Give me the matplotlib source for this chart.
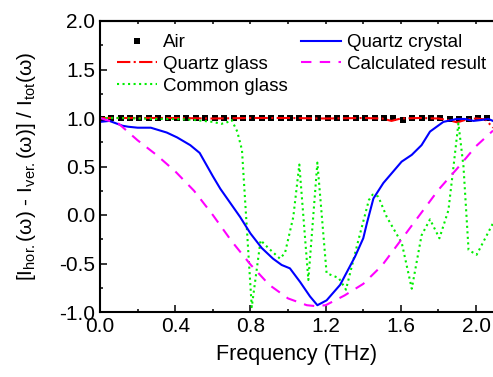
import matplotlib
matplotlib.use("Agg")
import matplotlib.pyplot as plt
from matplotlib.ticker import MultipleLocator

plt.rcParams.update({
    "font.family": ["Liberation Sans", "DejaVu Sans"],
    "mathtext.fontset": "custom",
    "mathtext.rm": "Liberation Sans",
    "mathtext.it": "Liberation Sans:italic",
    "axes.linewidth": 1.5,
})

# ── data ─────────────────────────────────────────────────────────────────────
air_f = [0.01, 0.06, 0.11, 0.16, 0.21, 0.26, 0.31, 0.36, 0.41, 0.46, 0.51,
         0.56, 0.61, 0.66, 0.71, 0.76, 0.81, 0.86, 0.91, 0.96, 1.01, 1.06,
         1.11, 1.16, 1.21, 1.26, 1.31, 1.36, 1.41, 1.46, 1.51, 1.56, 1.61,
         1.66, 1.71, 1.76, 1.81, 1.86, 1.91, 1.96, 2.01, 2.06, 2.11]
air_v = [0.99, 1.0, 1.0, 1.0, 1.0, 1.0, 1.0, 1.0, 1.0, 1.0, 1.0,
         1.0, 1.0, 1.0, 1.0, 1.0, 1.0, 1.0, 1.0, 1.0, 1.0, 1.0,
         1.0, 1.0, 1.0, 1.0, 1.0, 1.0, 1.0, 1.0, 0.995, 1.0, 0.975,
         0.995, 1.0, 1.0, 0.995, 0.99, 0.985, 0.99, 0.995, 0.995, 0.99]

qglass_f = [0.0, 0.2, 0.4, 0.6, 0.8, 1.0, 1.2, 1.4, 1.5, 1.55, 1.6, 1.7,
            1.8, 1.86, 1.9, 1.95, 2.0, 2.05, 2.09]
qglass_v = [1.0, 1.0, 1.0, 0.995, 1.0, 1.0, 0.995, 1.0, 0.995, 0.97, 0.995,
            1.0, 0.995, 0.975, 0.955, 0.985, 0.995, 0.985, 0.90]

cglass_f = [0.0, 0.1, 0.2, 0.3, 0.4, 0.45, 0.5, 0.55, 0.6, 0.645, 0.67,
            0.70, 0.73, 0.755, 0.807, 0.854, 0.895, 0.957, 0.984, 1.028,
            1.06, 1.108, 1.156, 1.205, 1.27, 1.308, 1.374, 1.43, 1.45, 1.48,
            1.525, 1.605, 1.658, 1.71, 1.755, 1.805, 1.853, 1.88, 1.906,
            1.933, 1.96, 2.003, 2.09]
cglass_v = [1.0, 1.0, 0.995, 0.99, 0.99, 0.985, 0.98, 0.97, 0.96, 0.94, 0.95,
            0.98, 0.86, 0.67, -0.95, -0.26, -0.34, -0.45, -0.39, -0.02,
            0.52, -0.67, 0.54, -0.60, -0.65, -0.77, -0.26, 0.155, 0.21, 0.19,
            -0.02, -0.29, -0.76, -0.21, -0.045, -0.24, 0.05, 0.50, 0.945,
            0.50, -0.36, -0.41, -0.085]

qcrys_f = [0.0, 0.05, 0.12, 0.15, 0.20, 0.27, 0.355, 0.41, 0.48, 0.53, 0.60,
           0.64, 0.745, 0.80, 0.86, 0.92, 0.966, 1.01, 1.064, 1.117, 1.156,
           1.205, 1.277, 1.356, 1.40, 1.42, 1.454, 1.507, 1.56, 1.604, 1.658,
           1.71, 1.755, 1.826, 1.897, 1.94, 1.986, 2.03, 2.065, 2.09]
qcrys_v = [0.96, 0.97, 0.92, 0.91, 0.90, 0.90, 0.85, 0.80, 0.72, 0.64, 0.40,
           0.27, -0.02, -0.19, -0.34, -0.45, -0.515, -0.55, -0.69, -0.84, -0.93,
           -0.88, -0.72, -0.43, -0.24, -0.08, 0.17, 0.33, 0.45, 0.55, 0.62,
           0.72, 0.86, 0.96, 0.99, 0.99, 0.97, 0.98, 0.99, 0.97]

calc_f = [0.0, 0.1, 0.2, 0.3, 0.4, 0.5, 0.6, 0.7, 0.8, 0.9, 1.0, 1.1, 1.15,
          1.2, 1.3, 1.4, 1.5, 1.6, 1.7, 1.8, 1.9, 2.0, 2.09]
calc_v = [1.0, 0.94, 0.77, 0.62, 0.45, 0.25, 0.0, -0.27, -0.51, -0.72, -0.86,
          -0.93, -0.94, -0.93, -0.83, -0.71, -0.52, -0.26, 0.0, 0.26, 0.48,
          0.71, 0.87]

fig = plt.figure(figsize=(4.93, 3.77), dpi=100)
ax = fig.add_axes([100 / 493, 65 / 377, 393 / 493, 291 / 377])

ax.plot(air_f, air_v, ls="none", marker="s", ms=5, color="black",
        mew=0, label="Air")
ax.plot(qglass_f, qglass_v, ls="-.", color="red", lw=1.5, label="Quartz glass")
ax.plot(cglass_f, cglass_v, ls=":", color="#00ee00", lw=1.5, label="Common glass")
ax.plot(qcrys_f, qcrys_v, ls="-", color="#0000ff", lw=1.5, label="Quartz crystal")
ax.plot(calc_f, calc_v, ls=(0, (5, 4)), color="#ff00ff", lw=1.5,
        label="Calculated result")

ax.set_xlim(0, 2.09)
ax.set_ylim(-1.0, 2.0)
ax.xaxis.set_major_locator(MultipleLocator(0.4))
ax.xaxis.set_minor_locator(MultipleLocator(0.2))
ax.yaxis.set_major_locator(MultipleLocator(0.5))
ax.yaxis.set_minor_locator(MultipleLocator(0.25))
ax.xaxis.set_major_formatter(lambda v, p: f"{v:.1f}")
ax.yaxis.set_major_formatter(lambda v, p: f"{v:.1f}".replace("\u2212", "-"))
ax.tick_params(which="both", direction="in", width=1.1, labelsize=15)
ax.tick_params(which="major", length=5)
ax.tick_params(which="minor", length=2.5)
ax.spines["right"].set_visible(False)

top = ax.secondary_xaxis("top")
top.xaxis.set_major_locator(MultipleLocator(0.2))
top.tick_params(direction="in", length=2.5, width=1.1, labeltop=False)

ax.set_xlabel("Frequency (THz)", fontsize=15.5, labelpad=6)
ax.set_ylabel(r"[I$_{\mathrm{hor.}}$($\mathrm{\omega}$) - I$_{\mathrm{ver.}}$($\mathrm{\omega}$)]"
              r" / I$_{\mathrm{tot}}$($\mathrm{\omega}$)", fontsize=15, labelpad=15)

ax.legend(ncol=2, loc="upper left", bbox_to_anchor=(0.043, 0.955),
          borderaxespad=0, borderpad=0, frameon=False, fontsize=13.5,
          handlelength=2.13, handletextpad=0.32, columnspacing=0.7,
          labelspacing=0.25, numpoints=1)

fig.savefig("out.png", dpi=100)
